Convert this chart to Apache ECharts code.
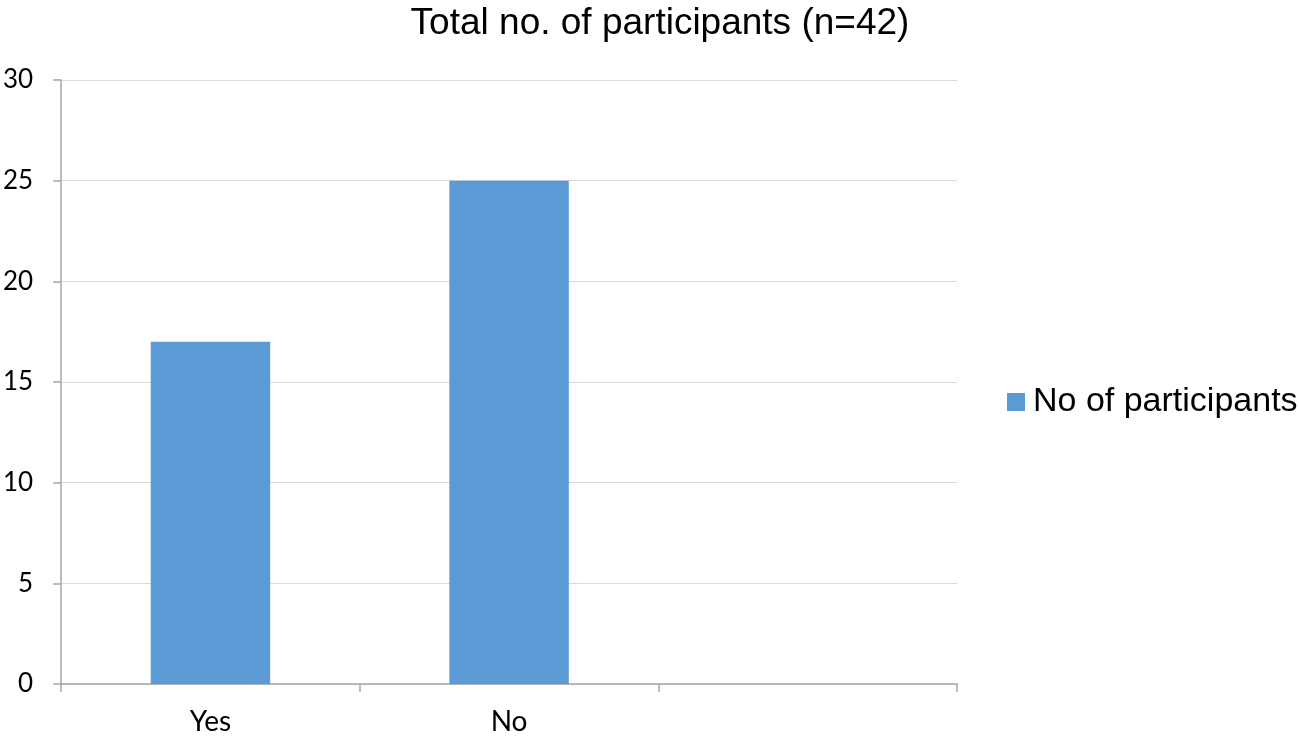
<!DOCTYPE html>
<html>
<head>
<meta charset="utf-8">
<script src="https://cdn.jsdelivr.net/npm/echarts@6/dist/echarts.min.js"></script>
<style>html,body{margin:0;padding:0;background:#fff}#c{width:1299px;height:743px}</style>
</head>
<body>
<div id="c"></div>
<script>
const titleText = "Total no. of participants (n=42)";
const seriesName = "No of participants";
const categories = ["Yes", "No", ""];
const values = [17, 25, null];
const yTicks = [0, 5, 10, 15, 20, 25, 30];

const chart = echarts.init(document.getElementById('c'));
chart.setOption({
  animation: false,
  title: {
    text: titleText,
    left: 655, textAlign: 'center', top: 0,
    textStyle: { fontFamily: 'Liberation Sans', fontSize: 37, fontWeight: 'normal', color: '#000' }
  },
  legend: {
    orient: 'vertical', left: 1007, top: 385, padding: 0,
    itemWidth: 18, itemHeight: 18, itemGap: 8,
    icon: 'rect',
    textStyle: { fontFamily: 'Liberation Sans', fontSize: 34, color: '#000', padding: [0, 0, 0, 3] },
    data: [seriesName]
  },
  grid: { left: 61, right: 342, top: 80, bottom: 59, containLabel: false },
  xAxis: {
    type: 'category', data: categories,
    axisLine: { lineStyle: { color: '#a6a6a6', width: 1.5 } },
    axisTick: { show: true, length: 8, lineStyle: { color: '#a6a6a6', width: 1.5 } },
    axisLabel: { fontFamily: 'Lato', fontSize: 28, color: '#000', margin: 24 }
  },
  yAxis: {
    type: 'value', min: yTicks[0], max: yTicks[yTicks.length - 1], interval: 5,
    axisLine: { show: true, lineStyle: { color: '#a6a6a6', width: 1.5 } },
    axisTick: { show: true, length: 8, lineStyle: { color: '#a6a6a6', width: 1.5 } },
    splitLine: { lineStyle: { color: '#d9d9d9', width: 1 } },
    axisLabel: { fontFamily: 'Lato', fontSize: 26, color: '#000', margin: 28 }
  },
  series: [{
    name: seriesName, type: 'bar', data: values, barWidth: '40%',
    itemStyle: { color: '#5b9bd5' }
  }]
});
</script>
</body>
</html>
